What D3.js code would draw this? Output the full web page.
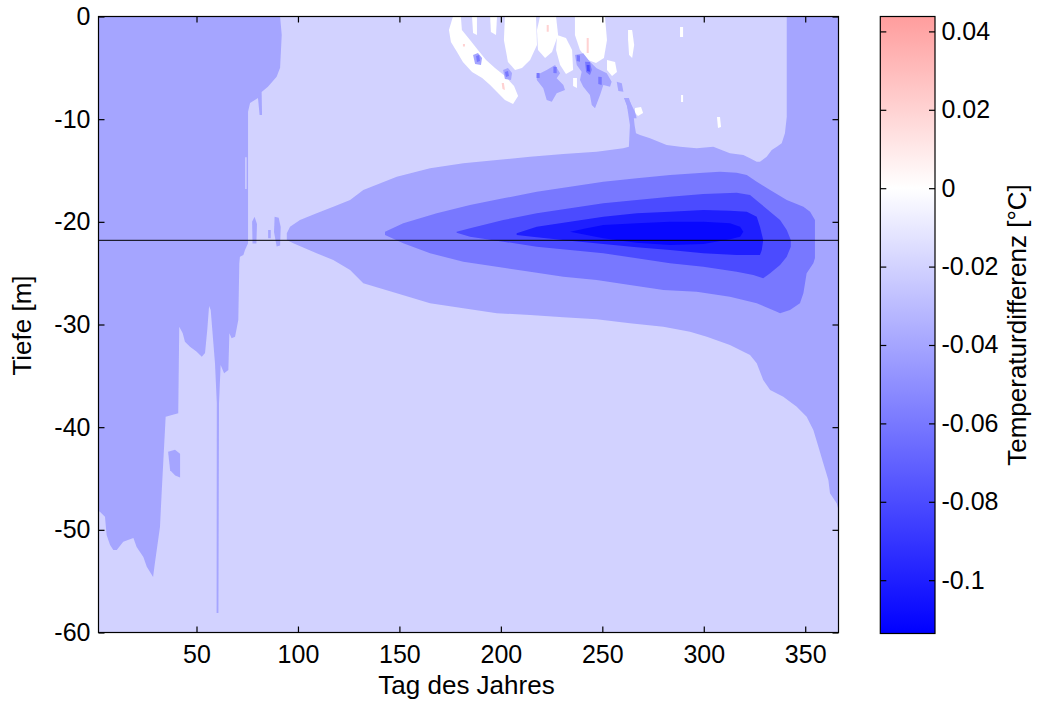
<!DOCTYPE html>
<html><head><meta charset="utf-8">
<script src="https://cdn.jsdelivr.net/npm/d3@7"></script>
<style>
body{margin:0;background:#fff}
text{font-family:"Liberation Sans",Arial,Helvetica,sans-serif;}
</style>
</head><body>
<svg id="c" width="1039" height="706"></svg>
<script>
// ---------------- DATA (day of year, depth in m, temperature difference in °C) ----------------
const dayDomain = [1.7, 366.4];
const depthDomain = [-60, 0];
const xTicks = [50, 100, 150, 200, 250, 300, 350];
const yTicks = [0, -10, -20, -30, -40, -50, -60];
const cbTicks = [0.04, 0.02, 0, -0.02, -0.04, -0.06, -0.08, -0.1];
const cbRange = [-0.1136, 0.0438];
const lineDepth = -21.8;
const backgroundLevel = -0.02;

// contour band outlines [day, depth]
const bandLeft04 = [[1.7,0],[91.2,0],[92.0,-1.8],[91.2,-5.0],[89.5,-5.86],[85.2,-6.84],[82.1,-7.35],[82.3,-9.6],[81.1,-9.6],[80.3,-7.94],[76.4,-8.42],[75.4,-9.27],[75.4,-22.09],[73.9,-22.74],[73.1,-23.23],[71.4,-23.4],[71.1,-24.04],[70.6,-29.56],[69.0,-31.19],[67.3,-31.34],[66.2,-30.86],[65.7,-34.43],[63.6,-34.75],[61.9,-33.94],[61.1,-37.65],[60.8,-58.1],[59.9,-58.1],[60.0,-37.65],[59.1,-33.75],[57.0,-28.59],[56.2,-28.2],[55.3,-30.53],[54.2,-32.77],[52.6,-33.14],[50.1,-32.65],[46.8,-32.16],[44.3,-31.67],[43.2,-30.86],[41.5,-30.21],[41.0,-38.65],[34.8,-38.98],[32.9,-46.12],[32.0,-49.72],[30.4,-51.96],[29.5,-53.23],[28.6,-54.6],[25.5,-53.6],[23.8,-52.64],[20.5,-51.67],[18.9,-50.79],[13.9,-51.15],[10.7,-51.96],[9.0,-51.96],[7.4,-51.47],[5.7,-50.5],[4.9,-48.72],[2.4,-48.23],[1.7,-48.16]];
const bandRight04 = [[366.4,0],[366.4,-48.07],[365.5,-47.41],[362.2,-46.44],[361.4,-45.14],[358.9,-43.52],[356.5,-41.9],[354.0,-40.27],[350.7,-38.98],[345.8,-38.0],[339.2,-37.03],[332.7,-36.38],[329.3,-35.4],[326.1,-33.78],[322.8,-32.97],[312.9,-32.0],[301.5,-31.19],[293.2,-30.70],[280.1,-30.21],[263.6,-29.88],[247.2,-29.49],[230.8,-29.30],[214.4,-29.07],[198.0,-28.91],[181.5,-28.42],[165.1,-27.93],[148.7,-26.96],[132.2,-25.99],[125.7,-24.69],[117.4,-23.72],[109.2,-23.06],[97.7,-22.09],[94.5,-21.77],[94.5,-21.12],[96.1,-20.47],[101.0,-19.82],[109.2,-19.17],[117.4,-18.53],[125.7,-17.87],[132.2,-16.90],[148.7,-15.60],[165.1,-14.79],[181.5,-14.30],[198.0,-13.98],[214.4,-13.66],[230.8,-13.39],[247.2,-13.17],[260.3,-12.84],[263.1,-12.68],[263.6,-10.57],[262.1,-8.62],[260.6,-7.94],[263.1,-7.94],[265.1,-9.1],[265.9,-10.57],[266.6,-11.38],[268.6,-11.54],[273.5,-11.86],[281.7,-12.52],[288.3,-12.68],[296.5,-12.84],[304.7,-12.68],[312.9,-13.32],[319.5,-13.49],[322.8,-13.81],[326.1,-14.14],[327.7,-14.14],[331.0,-13.66],[333.5,-13.0],[336.0,-12.68],[338.4,-12.35],[340.0,-11.38],[340.9,-9.76],[340.9,0]];
const band06 = [[142.9,-20.96],[151.9,-20.14],[168.4,-19.17],[184.8,-18.36],[201.2,-17.71],[217.7,-17.06],[234.1,-16.58],[250.5,-16.09],[267.0,-15.76],[283.4,-15.44],[299.8,-15.21],[308.0,-15.12],[316.2,-15.21],[321.2,-15.44],[326.1,-16.09],[332.7,-16.90],[340.9,-17.87],[349.1,-18.53],[352.4,-19.01],[354.8,-19.82],[354.8,-23.52],[354.0,-24.04],[350.7,-25.01],[349.1,-26.96],[347.4,-27.93],[342.5,-28.59],[337.6,-28.91],[336.0,-28.75],[326.1,-27.93],[312.9,-27.29],[296.5,-26.81],[280.1,-26.64],[263.6,-26.15],[247.2,-25.66],[230.8,-25.34],[214.4,-24.86],[198.0,-24.37],[181.5,-23.88],[165.1,-23.06],[151.9,-22.09],[142.9,-21.28]];
const band08 = [[178.2,-20.96],[184.8,-20.63],[201.2,-19.82],[217.7,-19.17],[234.1,-18.68],[250.5,-18.19],[267.0,-17.87],[283.4,-17.55],[299.8,-17.29],[316.2,-17.16],[322.8,-17.39],[327.7,-18.19],[332.7,-19.01],[337.6,-19.82],[340.9,-20.79],[342.9,-21.77],[342.9,-22.42],[340.9,-23.39],[337.6,-24.20],[332.7,-25.01],[329.3,-25.50],[324.4,-25.18],[316.2,-24.86],[299.8,-24.37],[283.4,-24.04],[267.0,-23.55],[250.5,-23.06],[234.1,-22.74],[217.7,-22.42],[201.2,-21.93],[184.8,-21.45],[178.2,-21.06]];
const band10 = [[207.8,-21.12],[217.7,-20.47],[234.1,-19.99],[250.5,-19.50],[267.0,-19.17],[283.4,-19.01],[299.8,-18.85],[312.9,-18.91],[321.2,-19.01],[326.1,-19.50],[327.7,-20.47],[329.3,-21.77],[328.6,-22.74],[327.7,-23.23],[316.2,-23.23],[299.8,-23.06],[283.4,-22.74],[267.0,-22.48],[250.5,-22.16],[234.1,-21.84],[217.7,-21.51],[207.8,-21.28]];
const bandCore = [[234.1,-20.96],[242.3,-20.63],[250.5,-20.31],[267.0,-20.14],[283.4,-19.99],[299.8,-19.99],[312.9,-20.14],[317.9,-20.47],[319.5,-20.96],[317.9,-21.45],[312.9,-21.70],[299.8,-22.16],[283.4,-22.26],[267.0,-22.03],[250.5,-21.60],[242.3,-21.28]];

// small isolated patches
const blobs04 = [
  [[77.4,-20.0],[78.6,-19.5],[79.8,-20.2],[79.5,-22.1],[77.6,-22.1]],
  [[85.3,-20.8],[86.6,-20.8],[86.6,-21.6],[85.3,-21.6]],
  [[88.5,-19.5],[90.5,-19.6],[91.5,-20.5],[91.2,-22.3],[89.5,-22.4],[88.2,-21.0]],
  [[36.0,-42.4],[39.4,-42.2],[41.9,-42.6],[41.9,-44.9],[39.5,-44.7],[37.0,-44.2]]
];
const stripes02 = [[[74.0,-13.7],[74.7,-13.7],[74.7,-16.8],[74.0,-16.8]]];
const surfaceWhite = [
  [[176.4,0],[180.3,0],[180.8,-1.31],[184.8,-2.29],[188.7,-3.26],[192.7,-4.24],[197.1,-5.02],[202.0,-5.80],[206.5,-6.77],[208.5,-7.74],[206.0,-8.52],[202.0,-8.13],[198.1,-7.35],[194.7,-6.67],[190.8,-5.99],[185.8,-5.41],[181.3,-4.43],[178.4,-3.46],[175.4,-2.48],[174.4,-1.31]],
  [[202.0,0],[217.3,0],[217.8,-2.78],[214.4,-4.24],[210.4,-5.02],[207.0,-5.21],[203.5,-4.43],[201.5,-2.29]],
  [[219.3,0],[227.2,0],[228.2,-1.80],[225.2,-3.46],[221.8,-4.04],[218.3,-3.26],[217.8,-1.31]],
  [[227.7,-1.80],[232.1,-2.09],[235.1,-3.26],[235.6,-5.21],[232.1,-5.60],[229.2,-4.72],[227.2,-3.26]],
  [[236.5,0],[251.3,0],[252.3,-2.29],[250.8,-4.04],[246.9,-4.53],[242.9,-4.24],[239.0,-3.26],[236.5,-1.80]],
  [[252.3,-4.24],[256.3,-4.43],[257.2,-5.41],[254.8,-5.80],[252.3,-5.21]],
  [[262.7,-1.31],[264.7,-1.31],[265.7,-2.78],[264.7,-4.04],[263.2,-3.75],[262.7,-2.29]],
  [[235.6,-5.99],[237.5,-5.99],[237.5,-6.96],[235.6,-6.77]],
  [[266.1,-8.91],[269.1,-8.81],[270.1,-9.40],[267.6,-9.69],[266.1,-9.40]],
  [[288.3,-1.02],[289.8,-1.02],[289.8,-2.00],[288.3,-2.00]],
  [[288.8,-7.65],[289.8,-7.65],[289.8,-8.33],[288.8,-8.33]],
  [[306.5,-9.79],[308.0,-9.79],[308.5,-10.76],[307.0,-10.86]],
  [[185.8,0],[188.2,0],[188.2,-1.80],[186.3,-1.61]],
  [[194.7,0],[198.1,0],[197.6,-1.80],[195.1,-1.51]]
];
const surfacePink = [
  [[222.6,-0.83],[223.6,-0.83],[223.6,-1.48],[222.6,-1.48]],
  [[242.3,-2.09],[243.3,-2.09],[243.3,-3.56],[242.3,-3.56]],
  [[200.4,-6.48],[201.5,-6.48],[202.0,-7.16],[200.8,-7.06]],
  [[181.3,-2.68],[182.3,-2.68],[182.3,-2.92],[181.3,-2.92]]
];
const surfaceBlobs04 = [
  [[217.7,-5.70],[222.6,-5.21],[226.7,-4.72],[229.2,-5.53],[227.5,-6.02],[230.8,-6.67],[231.6,-7.16],[227.5,-7.48],[225.1,-8.30],[222.6,-8.13],[220.9,-6.99],[217.7,-6.18]],
  [[236.5,-3.75],[240.6,-3.58],[243.9,-4.40],[247.2,-5.05],[252.2,-5.53],[254.6,-6.35],[253.8,-6.84],[250.5,-6.67],[248.9,-7.65],[246.4,-8.94],[244.8,-8.62],[243.9,-7.65],[240.6,-6.84],[239.0,-6.18],[239.8,-5.38],[237.4,-4.72]],
  [[257.1,-6.35],[259.6,-6.51],[260.4,-7.32],[257.9,-7.26]],
  [[261.2,-8.13],[263.6,-8.30],[266.1,-9.27],[266.9,-9.92],[265.3,-9.92],[262.8,-9.11]],
  [[186.3,-3.75],[188.7,-3.56],[190.7,-4.04],[190.2,-4.72],[187.3,-4.63]],
  [[201.1,-5.21],[203.5,-5.02],[205.5,-5.50],[205.0,-6.18],[202.0,-6.09]]
];
const surfaceSpecks06 = [
  [[187.8,-3.85],[189.3,-3.75],[189.7,-4.33],[188.2,-4.43]],
  [[202.0,-5.41],[203.5,-5.31],[204.0,-5.80],[202.5,-5.89]],
  [[225.9,-4.89],[227.5,-4.92],[227.5,-5.53],[225.9,-5.50]],
  [[237.4,-3.75],[239.0,-3.80],[239.0,-4.40],[237.4,-4.33]],
  [[241.5,-4.40],[243.9,-4.43],[244.8,-5.21],[243.9,-5.70],[242.0,-5.41]],
  [[248.0,-5.86],[249.7,-5.89],[249.7,-6.67],[248.0,-6.57]],
  [[217.6,-5.50],[219.1,-5.50],[219.1,-5.99],[217.6,-5.99]]
];
const surfaceSpecks10 = [[[242.3,-4.72],[243.7,-4.72],[243.9,-5.38],[242.5,-5.31]]];

// ---------------- CHART ----------------
const svg = d3.select("#c");
const x = d3.scaleLinear().domain(dayDomain).range([98.5, 838.5]);
const y = d3.scaleLinear().domain(depthDomain).range([632.5, 16.5]);
const color = d3.scaleLinear().domain([-0.1136, 0, 0.1136]).range(["#0000ff", "#ffffff", "#ff0000"]).clamp(true);
const cbY = d3.scaleLinear().domain(cbRange).range([633.5, 16.5]);
const tickFont = 25, titleFont = 26;

const regions = [];
const add = (arr, level) => arr.forEach(p => regions.push({pts: p, level}));
add([bandLeft04, bandRight04], -0.04);
add(blobs04, -0.04);
add(stripes02, -0.02);
add(surfaceWhite, 0);
add(surfacePink, 0.02);
add(surfaceBlobs04, -0.04);
add(surfaceSpecks06, -0.06);
add(surfaceSpecks10, -0.08);
add([band06], -0.06);
add([band08], -0.08);
add([band10], -0.10);
add([bandCore], -0.11);

const defs = svg.append("defs");
defs.append("clipPath").attr("id", "clip").append("rect")
  .attr("x", x(dayDomain[0])).attr("y", y(0))
  .attr("width", x(dayDomain[1]) - x(dayDomain[0])).attr("height", y(-60) - y(0));

const plot = svg.append("g").attr("clip-path", "url(#clip)");
plot.append("rect")
  .attr("x", x(dayDomain[0])).attr("y", y(0))
  .attr("width", x(dayDomain[1]) - x(dayDomain[0])).attr("height", y(-60) - y(0))
  .attr("fill", color(backgroundLevel));
const line = d3.line().x(d => x(d[0])).y(d => y(d[1]));
plot.selectAll("path.band").data(regions).join("path")
  .attr("class", "band")
  .attr("d", d => line(d.pts) + "Z")
  .attr("fill", d => color(d.level));

plot.append("line")
  .attr("x1", x(dayDomain[0])).attr("x2", x(dayDomain[1]))
  .attr("y1", y(lineDepth)).attr("y2", y(lineDepth))
  .attr("stroke", "#000").attr("stroke-width", 1);

// axes
const fmt = v => String(v);
const styleAxis = g => {
  g.select(".domain").remove();
  g.selectAll("line").attr("stroke", "#000").attr("stroke-width", 1.2);
  g.selectAll("text").attr("font-size", tickFont).attr("fill", "#000")
    .attr("font-family", "'Liberation Sans', Arial, sans-serif");
  g.attr("font-family", null).attr("font-size", null);
};
svg.append("g").attr("transform", `translate(0,${y(-60)})`)
  .call(d3.axisBottom(x).tickValues(xTicks).tickSize(-6).tickPadding(13).tickFormat(fmt)).call(styleAxis);
svg.append("g").attr("transform", `translate(0,${y(0)})`)
  .call(d3.axisTop(x).tickValues(xTicks).tickSize(-6).tickFormat(() => "")).call(styleAxis);
svg.append("g").attr("transform", `translate(${x(dayDomain[0])},0)`)
  .call(d3.axisLeft(y).tickValues(yTicks).tickSize(-6).tickPadding(8).tickFormat(fmt)).call(styleAxis);
svg.append("g").attr("transform", `translate(${x(dayDomain[1])},0)`)
  .call(d3.axisRight(y).tickValues(yTicks).tickSize(-6).tickFormat(() => "")).call(styleAxis);

svg.append("rect")
  .attr("x", x(dayDomain[0])).attr("y", y(0))
  .attr("width", x(dayDomain[1]) - x(dayDomain[0])).attr("height", y(-60) - y(0))
  .attr("fill", "none").attr("stroke", "#000").attr("stroke-width", 1.2);

// colorbar
const cbX0 = 880.3, cbX1 = 935;
const grad = defs.append("linearGradient").attr("id", "cbgrad")
  .attr("x1", 0).attr("y1", 1).attr("x2", 0).attr("y2", 0);
const frac = v => (v - cbRange[0]) / (cbRange[1] - cbRange[0]);
[cbRange[0], 0, cbRange[1]].forEach(v => grad.append("stop")
  .attr("offset", frac(v)).attr("stop-color", color(v)));
svg.append("rect").attr("x", cbX0).attr("y", cbY(cbRange[1]))
  .attr("width", cbX1 - cbX0).attr("height", cbY(cbRange[0]) - cbY(cbRange[1]))
  .attr("fill", "url(#cbgrad)").attr("stroke", "#000").attr("stroke-width", 1.2);
const cbFmt = v => v === 0 ? "0" : String(+v.toFixed(2));
svg.append("g").attr("transform", `translate(${cbX1},0)`)
  .call(d3.axisRight(cbY).tickValues(cbTicks).tickSize(-6).tickPadding(6.5).tickFormat(cbFmt)).call(styleAxis);
svg.append("g").attr("transform", `translate(${cbX0},0)`)
  .call(d3.axisLeft(cbY).tickValues(cbTicks).tickSize(-6).tickFormat(() => "")).call(styleAxis);

// titles
svg.append("text").attr("x", (x(dayDomain[0]) + x(dayDomain[1])) / 2 - 2).attr("y", 694)
  .attr("text-anchor", "middle").attr("font-size", titleFont).text("Tag des Jahres");
svg.append("text").attr("transform", `translate(31,${(y(0) + y(-60)) / 2 + 1}) rotate(-90)`)
  .attr("text-anchor", "middle").attr("font-size", titleFont).text("Tiefe [m]");
svg.append("text").attr("transform", `translate(1026,${(cbY(cbRange[0]) + cbY(cbRange[1])) / 2}) rotate(-90)`)
  .attr("text-anchor", "middle").attr("font-size", titleFont).text("Temperaturdifferenz [°C]");
</script>
</body></html>
